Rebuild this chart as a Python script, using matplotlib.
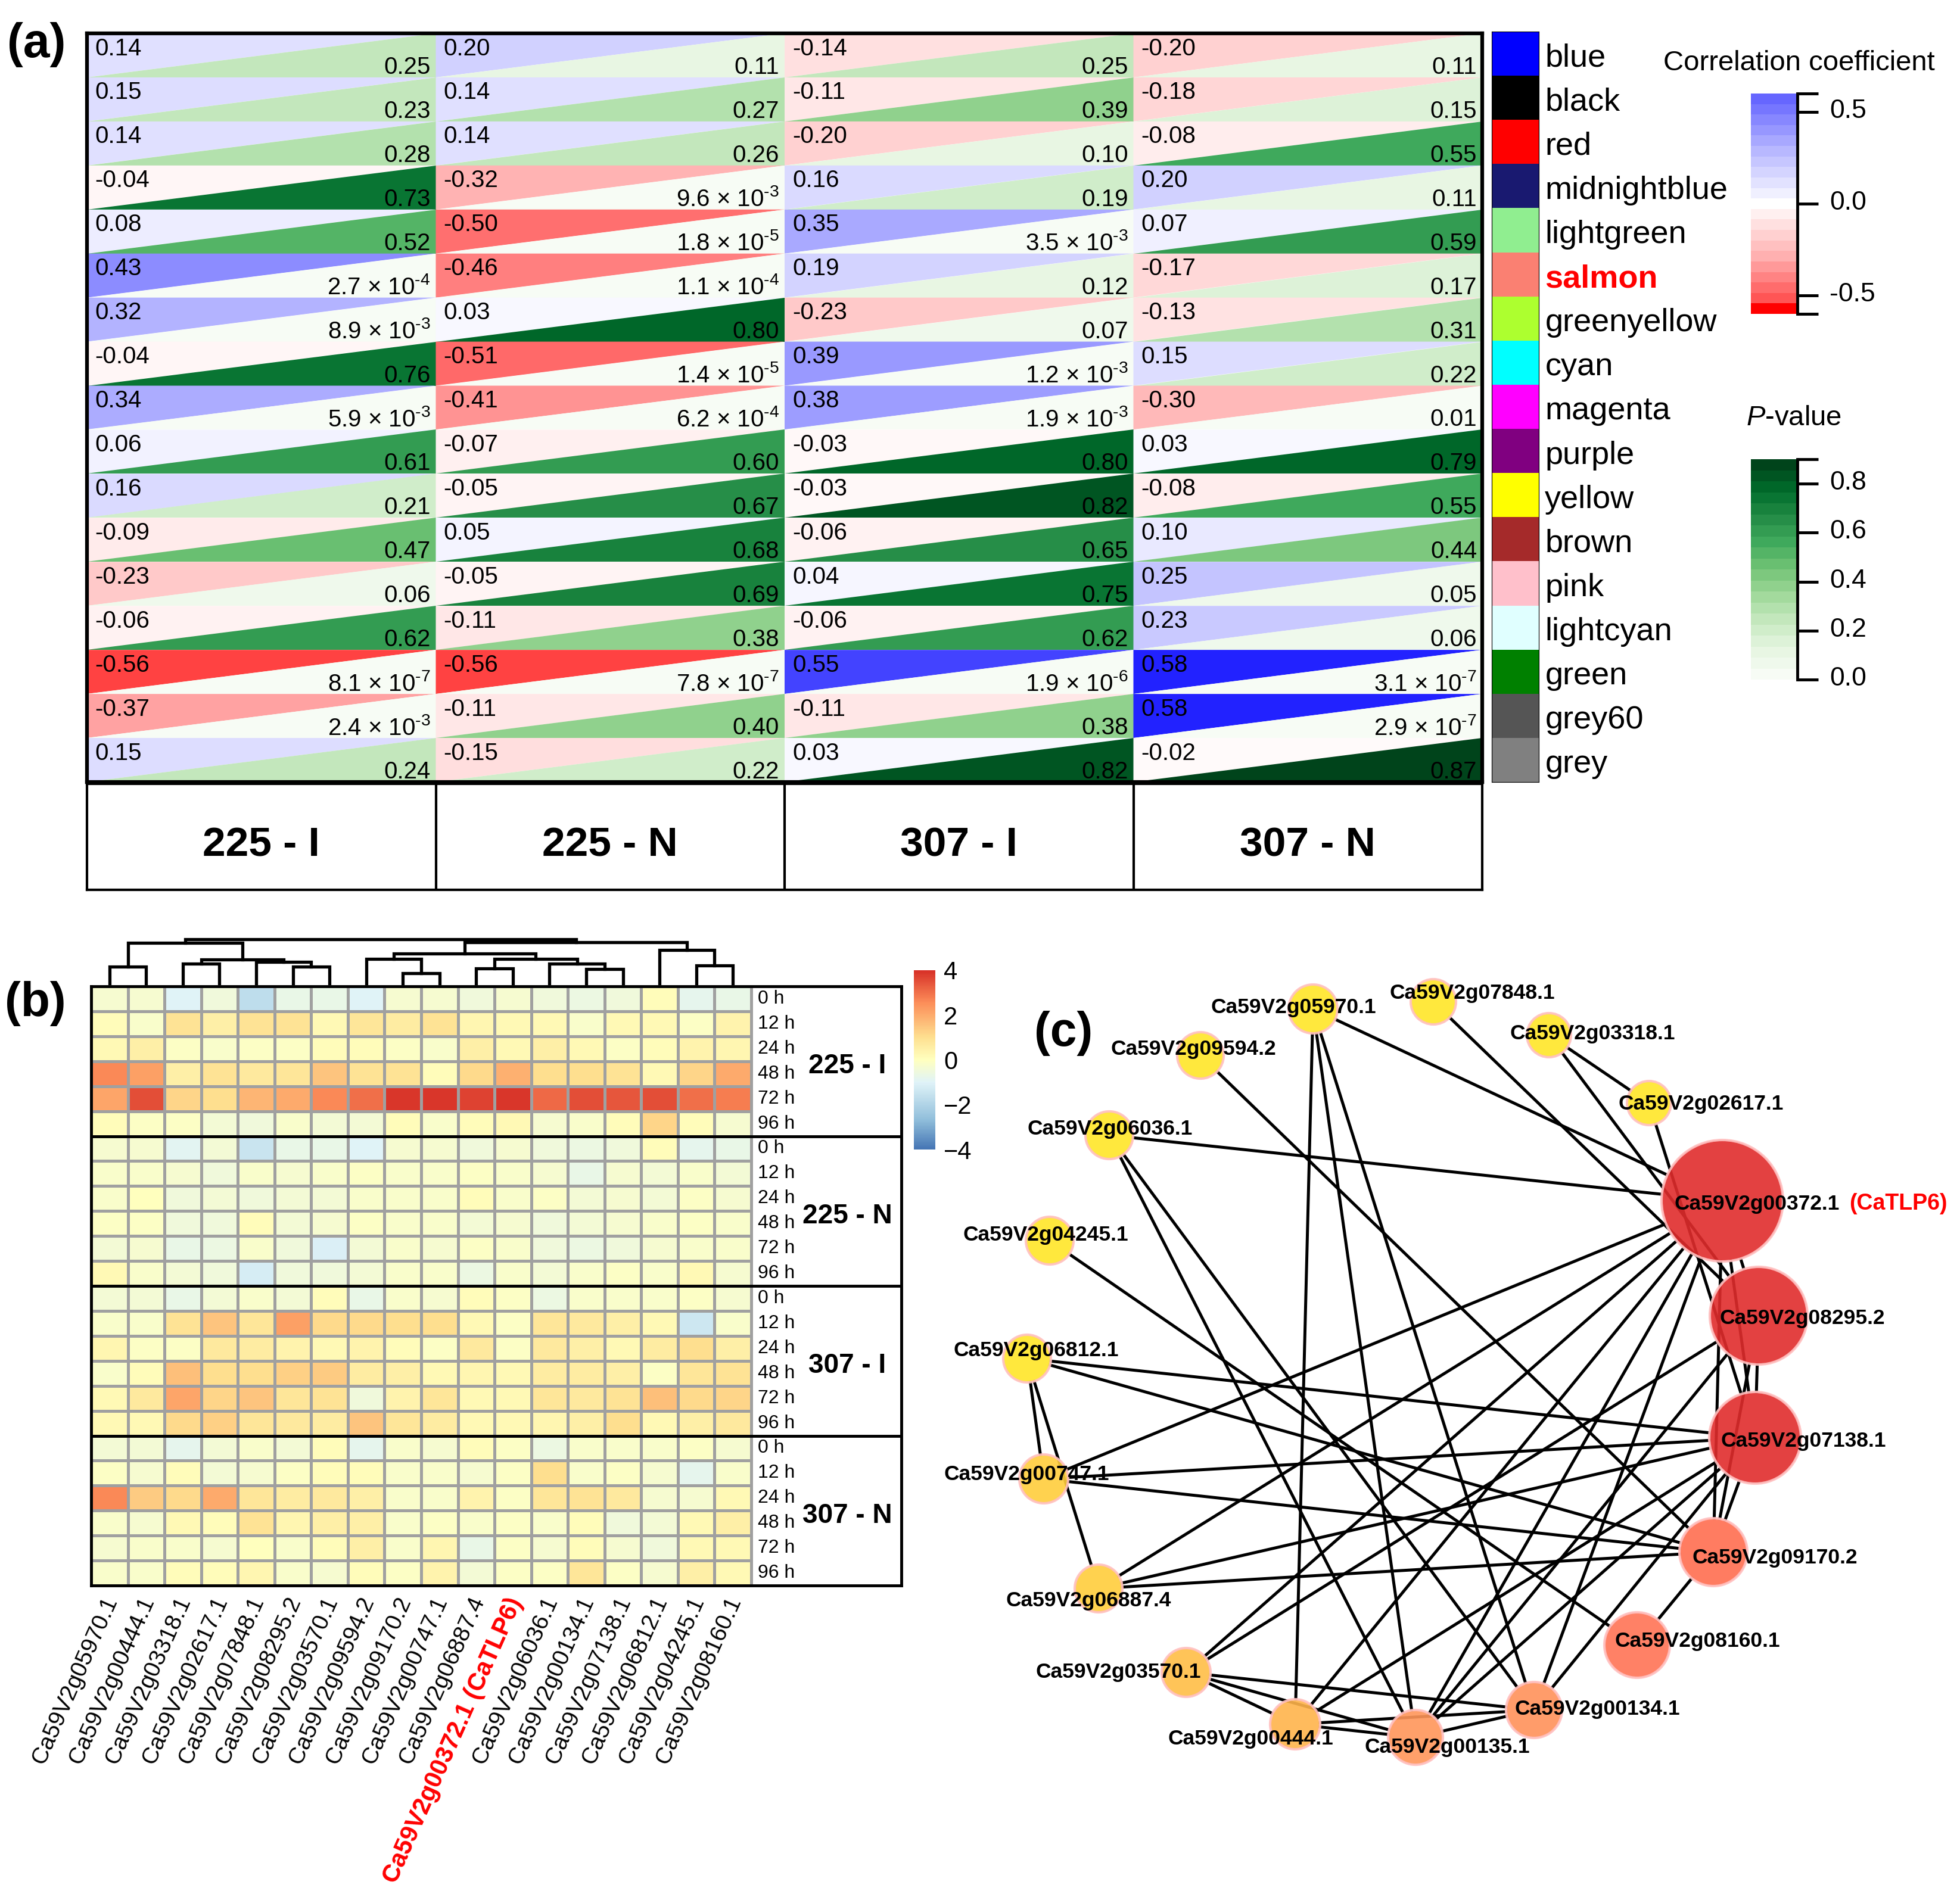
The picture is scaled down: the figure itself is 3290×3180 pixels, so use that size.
import matplotlib
matplotlib.use('Agg')
import matplotlib.pyplot as plt
import numpy as np
from matplotlib.cm import ScalarMappable
from matplotlib.colors import LinearSegmentedColormap, Normalize
from matplotlib.patches import Circle
from matplotlib.transforms import ScaledTranslation

W, H = 3290, 3180

# panel a: correlation (r) and p values, one list per column
conditions = ['225 - I', '225 - N', '307 - I', '307 - N']
r_225i = [.14, .15, .14, -.04, .08, .43, .32, -.04, .34, .06, .16, -.09, -.23, -.06, -.56, -.37, .15]
r_225n = [.20, .14, .14, -.32, -.50, -.46, .03, -.51, -.41, -.07, -.05, .05, -.05, -.11, -.56, -.11, -.15]
r_307i = [-.14, -.11, -.20, .16, .35, .19, -.23, .39, .38, -.03, -.03, -.06, .04, -.06, .55, -.11, .03]
r_307n = [-.20, -.18, -.08, .20, .07, -.17, -.13, .15, -.30, .03, -.08, .10, .25, .23, .58, .58, -.02]
p_225i = [.25, .23, .28, .73, .52, 2.7e-4, 8.9e-3, .76, 5.9e-3, .61, .21, .47, .06, .62, 8.1e-7, 2.4e-3, .24]
p_225n = [.11, .27, .26, 9.6e-3, 1.8e-5, 1.1e-4, .80, 1.4e-5, 6.2e-4, .60, .67, .68, .69, .38, 7.8e-7, .40, .22]
p_307i = [.25, .39, .10, .19, 3.5e-3, .12, .07, 1.2e-3, 1.9e-3, .80, .82, .65, .75, .62, 1.9e-6, .38, .82]
p_307n = [.11, .15, .55, .11, .59, .17, .31, .22, .01, .79, .55, .44, .05, .06, 3.1e-7, 2.9e-7, .87]
modules = ['blue', 'black', 'red', 'midnightblue', 'lightgreen', 'salmon', 'greenyellow', 'cyan', 'magenta',
           'purple', 'yellow', 'brown', 'pink', 'lightcyan', 'green', 'grey60', 'grey']
module_colors = ['#0000ff', '#000000', '#ff0000', '#191970', '#90ee90', '#fa8072', '#adff2f', '#00ffff', '#ff00ff',
                 '#800080', '#ffff00', '#a52a2a', '#ffc0cb', '#e0ffff', '#008000', '#555555', '#808080']

# panel b: expression per condition, rows are the time points
genes_b = ['Ca59V2g05970.1', 'Ca59V2g00444.1', 'Ca59V2g03318.1', 'Ca59V2g02617.1', 'Ca59V2g07848.1',
           'Ca59V2g08295.2', 'Ca59V2g03570.1', 'Ca59V2g09594.2', 'Ca59V2g09170.2', 'Ca59V2g00747.1',
           'Ca59V2g06887.4', 'Ca59V2g00372.1 (CaTLP6)', 'Ca59V2g06036.1', 'Ca59V2g00134.1', 'Ca59V2g07138.1',
           'Ca59V2g06812.1', 'Ca59V2g04245.1', 'Ca59V2g08160.1']
hours = ['0 h', '12 h', '24 h', '48 h', '72 h', '96 h']
expr_225i = [
    [-.3, -.3, -1, -.5, -1.7, -.7, -.7, -1, -.3, -.3, -.5, -.3, -.5, -.6, -.5, .1, -.8, -.7],
    [.1, -.2, .9, .5, .9, .9, .2, .8, .6, .9, .3, .2, .2, -.2, .2, .2, -.1, .4],
    [.2, .5, -.1, -.2, -.1, -.1, .1, .1, -.1, -.2, .5, .2, .5, .2, -.1, .1, .4, .3],
    [2.6, 2.2, .5, .9, .7, .8, 1.5, .9, .9, .1, 1.1, 1.9, 1, 1, .9, .2, 1.2, 2],
    [2.1, 3.5, 1.2, 1, 1.8, 2, 2.6, 3, 3.9, 3.9, 3.7, 3.9, 3.1, 3.5, 3.4, 3.5, 3, 2.8],
    [.1, -.1, -.1, -.4, -.5, -.2, -.4, -.4, .1, -.2, .1, .2, -.3, -.2, .1, 1.2, .1, -.3]]
expr_225n = [
    [-.3, -.3, -.9, -.4, -1.5, -.7, -.7, -1, -.3, -.3, -.5, -.3, -.5, -.6, -.5, .1, -.8, -.7],
    [-.2, -.2, -.3, -.5, -.2, -.3, -.2, -.1, -.2, -.2, -.1, -.2, -.3, -.7, -.3, -.4, -.2, -.4],
    [-.2, 0, -.5, -.4, -.5, -.4, -.4, -.2, -.2, -.2, .1, -.2, -.1, -.4, -.3, -.4, -.1, -.3],
    [-.1, -.1, -.5, -.5, .1, -.4, -.3, -.1, -.2, -.2, -.4, -.3, -.5, -.4, -.3, -.2, -.1, -.2],
    [-.4, -.3, -.7, -.6, -.2, -.5, -1.1, -.4, -.2, -.3, -.1, -.2, -.5, -.6, -.5, -.3, -.2, -.2],
    [.2, -.2, -.4, -.5, -1.2, -.5, -.5, -.4, -.2, -.2, -.6, -.2, -.4, -.2, -.1, -.2, .2, -.3]]
expr_307i = [
    [-.4, -.4, -.7, -.4, -.2, -.4, .1, -.7, -.2, -.3, .1, -.1, -.6, -.2, -.2, -.2, -.1, -.3],
    [-.2, -.2, .9, 1.5, .8, 2.2, 1.1, 1.1, 1, 1, .2, -.1, .8, .7, .5, .2, -1.4, -.2],
    [.3, -.1, -.1, .7, .6, .4, .2, .4, .1, -.1, .7, -.1, .7, .5, .2, .6, 1, .5],
    [-.2, .1, 1.6, 1, 1, 1.3, 1.4, .6, .5, .2, .3, .2, .6, .6, .5, -.1, .8, .9],
    [.2, .7, 2.1, 1.2, 1.5, .8, .9, -.5, .4, .8, .2, .2, .8, .7, .9, 1.6, 1.1, 1.2],
    [.2, .2, 1.1, 1.3, .8, .7, .6, 1.5, .8, .6, .2, .2, .3, .5, 1, .2, .5, .7]]
expr_307n = [
    [-.4, -.4, -.8, -.4, -.2, -.4, .1, -.8, -.2, -.3, .1, -.1, -.6, -.2, -.2, -.2, -.1, -.3],
    [-.1, -.3, .1, -.4, -.3, -.1, .1, .1, -.2, -.2, -.3, -.1, 1, -.2, -.1, -.3, -.8, -.2],
    [2.6, 1.4, 1.1, 2, .8, .6, .7, .5, -.2, -.2, .4, -.1, .8, .9, .7, -.3, -.3, .2],
    [-.2, -.3, .2, .1, .9, .3, .5, .5, -.2, -.1, -.2, -.1, -.2, .1, -.5, -.4, .2, .5],
    [-.3, -.2, -.2, -.3, 0, -.2, .1, .5, -.2, .3, -.7, -.1, -.3, .1, -.3, -.5, .2, .2],
    [-.2, -.2, .1, .1, .3, -.2, -.3, .1, -.1, .4, -.4, -.1, -.1, .8, -.1, -.3, .5, .2]]
# dendrogram: left child, right child, height (ids from 18 up are earlier merges)
merges = [(0, 1, 43), (2, 3, 50), (5, 6, 44), (4, 20, 54), (19, 21, 60), (18, 22, 99), (8, 9, 28), (7, 24, 62),
          (10, 11, 39), (13, 14, 38), (12, 27, 51), (26, 28, 62), (25, 29, 74), (16, 17, 46), (15, 31, 82),
          (30, 32, 101), (23, 33, 108)]

# panel c: network, node positions in image pixels
node_names = ['09594.2', '05970.1', '07848.1', '03318.1', '02617.1', '00372.1', '08295.2', '07138.1', '09170.2',
              '08160.1', '00134.1', '00135.1', '00444.1', '03570.1', '06887.4', '00747.1', '06812.1', '04245.1',
              '06036.1']
node_x = [2015, 2204, 2406, 2600, 2768, 2891, 2952, 2946, 2876, 2748, 2575, 2376, 2174, 1991, 1844, 1752, 1724, 1762, 1862]
node_y = [1772, 1694, 1682, 1738, 1852, 2016, 2209, 2414, 2606, 2762, 2871, 2917, 2895, 2808, 2667, 2483, 2281, 2083, 1906]
node_r = [39, 41, 38, 37, 37, 102, 82, 77, 57, 55, 47, 46, 42, 41, 40, 41, 40, 40, 40]
node_colors = ['#ffe628', '#ffe628', '#ffe628', '#ffe628', '#ffe628', '#e02c2c', '#e02c2c', '#e02c2c', '#ff6e50',
               '#ff7355', '#ff915a', '#ff965a', '#ffb44b', '#ffbe46', '#ffcd3c', '#ffcd3c', '#ffe628', '#ffe628',
               '#ffe628']
label_x = [1864, 2033, 2332, 2535, 2716, 2810, 2886, 2888, 2840, 2710, 2542, 2290, 1960, 1739, 1689, 1584, 1600, 1617, 1725]
label_y = [1762, 1692, 1667, 1735, 1854, 2021, 2214, 2419, 2615, 2756, 2869, 2933, 2920, 2807, 2687, 2475, 2267, 2073, 1895]
edges = [('05970.1', '00372.1'), ('05970.1', '00444.1'), ('05970.1', '00135.1'), ('05970.1', '00134.1'),
         ('07848.1', '08295.2'), ('09594.2', '09170.2'), ('03318.1', '02617.1'), ('03318.1', '08295.2'),
         ('02617.1', '07138.1'), ('06036.1', '00372.1'), ('06036.1', '00134.1'), ('06036.1', '00135.1'),
         ('04245.1', '08160.1'), ('06812.1', '07138.1'), ('06812.1', '09170.2'), ('06812.1', '00747.1'),
         ('06812.1', '06887.4'), ('00747.1', '00372.1'), ('00747.1', '07138.1'), ('00747.1', '09170.2'),
         ('06887.4', '00372.1'), ('06887.4', '07138.1'), ('06887.4', '09170.2'), ('03570.1', '00372.1'),
         ('03570.1', '08295.2'), ('03570.1', '00444.1'), ('03570.1', '00135.1'), ('03570.1', '00134.1'),
         ('00444.1', '00372.1'), ('00444.1', '07138.1'), ('00444.1', '00135.1'), ('00444.1', '00134.1'),
         ('00135.1', '00372.1'), ('00135.1', '08295.2'), ('00135.1', '07138.1'), ('00135.1', '00134.1'),
         ('00134.1', '00372.1'), ('00134.1', '07138.1'), ('00372.1', '08295.2'), ('08295.2', '07138.1'),
         ('00372.1', '09170.2'), ('08295.2', '09170.2'), ('07138.1', '09170.2'), ('09170.2', '08160.1'),
         ('00372.1', '07138.1')]

plt.rcParams['font.family'] = ['Liberation Sans', 'DejaVu Sans']
plt.rcParams['mathtext.fontset'] = 'custom'
plt.rcParams['mathtext.rm'] = 'Liberation Sans'
plt.rcParams['mathtext.it'] = 'Liberation Sans:italic'
plt.rcParams['mathtext.bf'] = 'Liberation Sans:bold'

corr_cmap = LinearSegmentedColormap.from_list('corr', [
    (0, '#ff0000'), (.0167, '#ff2424'), (.0333, '#ff4646'), (.0833, '#ff7070'), (.1417, '#ff8c8c'), (.2333, '#ffb4b4'),
    (.3333, '#ffd1d1'), (.3833, '#ffe0e0'), (.5, '#ffffff'), (.6167, '#e0e0ff'), (.6667, '#d1d1ff'), (.7667, '#b4b4ff'),
    (.8583, '#8c8cff'), (.9583, '#4646ff'), (.9833, '#2424ff'), (1, '#0000ff')], N=256)
corr_bar_cmap = LinearSegmentedColormap.from_list('corr_bar', [
    (0, '#ff0000'), (.045, '#ff0000'), (.05, '#ff5555'), (.25, '#ffb0b0'), (.47, '#fff6f6'), (.49, '#ffffff'),
    (.51, '#ffffff'), (.53, '#f6f6ff'), (.75, '#b8b8ff'), (1, '#6666ff')], N=21)
corr_norm = Normalize(-.6, .6)
p_cmap = plt.get_cmap('Greens', 20)
p_norm = Normalize(0, .9)
heat_cmap = LinearSegmentedColormap.from_list('pheat', [
    (0, '#4575b4'), (.1667, '#91bfdb'), (.375, '#e0f3f8'), (.5, '#ffffbf'), (.625, '#fee090'),
    (.82, '#fc8d59'), (1, '#d73027')])


def px_axes(fig, x0, y0, x1, y1):
    return fig.add_axes([x0 / W, 1 - y1 / H, (x1 - x0) / W, (y1 - y0) / H])


def format_p(p):
    if p >= .01:
        return f'{p:.2f}'
    exponent = int(np.floor(np.log10(p)))
    return f'{p / 10.0 ** exponent:.1f} × 10$^{{\\text{{{exponent}}}}}$'


def side_colorbar(fig, box, cmap, norm, ticks, labels):
    cax = px_axes(fig, *box)
    cb = fig.colorbar(ScalarMappable(norm=norm, cmap=cmap), cax=cax, ticks=ticks)
    cb.set_ticklabels(labels)
    cb.outline.set_visible(False)
    cax.tick_params(length=25, width=3.5, labelsize=32, pad=14)
    cax.axvline(1, color='k', lw=3.5, clip_on=False)
    # the labels sit a little above their ticks
    for lab in cax.get_yticklabels():
        lab.set_transform(lab.get_transform() + ScaledTranslation(0, .06, fig.dpi_scale_trans))
    return cax


def draw_panel_a(fig):
    r_cols = [r_225i, r_225n, r_307i, r_307n]
    p_cols = [p_225i, p_225n, p_307i, p_307n]
    ax = px_axes(fig, 146, 56, 2488, 1313)
    ax.set_xlim(0, 4)
    ax.set_ylim(17, 0)
    ax.set_xticks([])
    ax.set_yticks([])
    for col in range(4):
        for row in range(17):
            r, p = r_cols[col][row], p_cols[col][row]
            ax.fill([col, col + 1, col], [row, row, row + 1], color=corr_cmap(corr_norm(r)), lw=0)
            ax.fill([col + 1, col + 1, col], [row, row + 1, row + 1], color=p_cmap(p_norm(p)), lw=0)
            ax.text(col + .022, row + .345, f'{r:.2f}', fontsize=29, va='center', ha='left')
            ax.text(col + .985, row + .77, format_p(p), fontsize=29, va='center', ha='right')
    for s in ax.spines.values():
        s.set_linewidth(4.5)

    box = px_axes(fig, 146, 1316, 2488, 1494)
    box.set_xlim(0, 4)
    box.set_ylim(0, 1)
    box.set_xticks([])
    box.set_yticks([])
    for i, name in enumerate(conditions):
        box.text(i + .5, .42, name, fontsize=50, fontweight='bold', ha='center', va='center')
        if i:
            box.axvline(i, color='k', lw=3)
    for s in box.spines.values():
        s.set_linewidth(3)

    strip = px_axes(fig, 2504, 53, 2583, 1313)
    strip.barh(np.arange(17), 1, height=1, left=0, color=module_colors)
    strip.set_xlim(0, 1)
    strip.set_ylim(16.5, -.5)
    strip.set_xticks([])
    strip.set_yticks([])
    for i, name in enumerate(modules):
        hot = name == 'salmon'
        strip.text(1.13, i + .1, name, fontsize=39, va='center', ha='left',
                   color='red' if hot else 'k', fontweight='bold' if hot else 'normal')

    side_colorbar(fig, (2939, 157, 3017, 527), corr_bar_cmap, corr_norm, [-.6, -.5, 0, .5, .6],
                  ['', '-0.5', '0.0', '0.5', ''])
    fig.text(2792 / W, 1 - 106 / H, 'Correlation coefficient', fontsize=34, va='center')
    side_colorbar(fig, (2939, 771, 3017, 1141), p_cmap, p_norm, [0, .2, .4, .6, .8, .9],
                  ['0.0', '0.2', '0.4', '0.6', '0.8', ''])
    fig.text(2931 / W, 1 - 702 / H, r'$\mathit{P}$-value', fontsize=34, va='center')


def draw_panel_b(fig):
    values = np.array(expr_225i + expr_225n + expr_307i + expr_307n)
    cell = (1261 - 153) / 18
    ax = px_axes(fig, 153, 1656, 1513, 2662)
    ax.pcolormesh(values, cmap=heat_cmap, vmin=-4, vmax=4, edgecolors='#a0a0a0', linewidth=3.5)
    ax.set_xlim(0, (1513 - 153) / cell)
    ax.set_ylim(24, 0)
    ax.set_yticks([])
    ax.set_xticks(np.arange(18) + .3)
    ax.set_xticklabels(genes_b, rotation=66, ha='right', va='top', rotation_mode='anchor', fontsize=28)
    ax.tick_params(axis='x', length=0, pad=10)
    for lab in ax.get_xticklabels():
        if 'CaTLP6' in lab.get_text():
            lab.set_color('red')
            lab.set_fontweight('bold')
            lab.set_fontsize(30)
    for g in range(4):
        # no narrow bold face is installed, so smaller than the picture to fit the box
        ax.text(20.62, 6 * g + 3.2, conditions[g], fontsize=33, fontweight='bold',
                ha='center', va='center')
        for h, label in enumerate(hours):
            ax.text(18.18, 6 * g + h + .5, label, fontsize=23, va='center', ha='left')
        if g:
            ax.axhline(6 * g, color='k', lw=3.5)
    for s in ax.spines.values():
        s.set_linewidth(3.5)

    dend = px_axes(fig, 153, 1570, 1261, 1654)
    dend.set_xlim(0, 18)
    dend.set_ylim(0, 84 * 1.4)
    dend.axis('off')
    pos = {i: (i + .5, 0) for i in range(18)}
    for k, (a, b, h) in enumerate(merges):
        xa, ya = pos[a]
        xb, yb = pos[b]
        dend.plot([xa, xa, xb, xb], [ya, h, h, yb], color='k', lw=3.8, solid_joinstyle='miter')
        pos[18 + k] = ((xa + xb) / 2, h)

    cax = px_axes(fig, 1534, 1629, 1570, 1930)
    cb = fig.colorbar(ScalarMappable(norm=Normalize(-4, 4), cmap=heat_cmap), cax=cax, ticks=[-4, -2, 0, 2, 4])
    cb.set_ticklabels(['\u22124', '\u22122', '0', '2', '4'])
    cb.outline.set_visible(False)
    cax.tick_params(length=0, labelsize=30, pad=10)


def draw_panel_c(fig):
    ax = px_axes(fig, 1550, 1550, 3290, 3050)
    ax.set_xlim(1550, 3290)
    ax.set_ylim(3050, 1550)
    ax.axis('off')
    where = {n: np.array([x, y, r]) for n, x, y, r in zip(node_names, node_x, node_y, node_r)}
    for a, b in edges:
        # stop each edge at the rim of its two nodes
        pa, pb = where[a], where[b]
        step = (pb[:2] - pa[:2]) / np.hypot(*(pb[:2] - pa[:2]))
        start = pa[:2] + step * pa[2]
        end = pb[:2] - step * pb[2]
        ax.plot([start[0], end[0]], [start[1], end[1]], color='k', lw=3.6, zorder=1)
    for x, y, r, c in zip(node_x, node_y, node_r, node_colors):
        ax.add_patch(Circle((x, y), r, facecolor=c, edgecolor='#ffc0c0', lw=3, alpha=.9, zorder=2))
    for n, x, y in zip(node_names, label_x, label_y):
        ax.text(x, y, 'Ca59V2g' + n, fontsize=25.5, fontweight='bold', va='center', ha='left', zorder=3)
    ax.text(3104, 2021, '(CaTLP6)', fontsize=27, fontweight='bold', color='red', va='center', ha='left', zorder=3)


def main():
    fig = plt.figure(figsize=(W / 100, H / 100), dpi=100)
    draw_panel_a(fig)
    draw_panel_b(fig)
    draw_panel_c(fig)
    for label, x, y in [('(a)', 12, 75), ('(b)', 8, 1685), ('(c)', 1736, 1735)]:
        fig.text(x / W, 1 - y / H, label, fontsize=58, fontweight='bold', va='center', ha='left')
    fig.savefig('out.png', dpi=100)


if __name__ == '__main__':
    main()
